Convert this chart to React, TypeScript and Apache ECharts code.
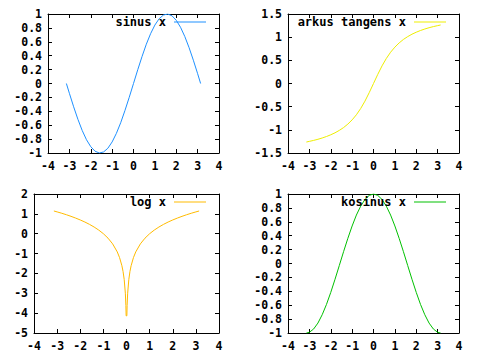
import React, { useEffect, useRef } from "react";
import * as echarts from "echarts";

const xs = [-3.14, -3.0, -2.8, -2.6, -2.4, -2.2, -2.0, -1.8, -1.6, -1.4, -1.2, -1.0, -0.8, -0.6, -0.4, -0.2, 0,
  0.2, 0.4, 0.6, 0.8, 1.0, 1.2, 1.4, 1.6, 1.8, 2.0, 2.2, 2.4, 2.6, 2.8, 3.0, 3.14];
const sinY = [0.0, -0.141, -0.335, -0.516, -0.676, -0.809, -0.909, -0.974, -1.0, -0.985, -0.932, -0.841, -0.717, -0.565, -0.389, -0.199, 0,
  0.199, 0.389, 0.565, 0.717, 0.841, 0.932, 0.985, 1.0, 0.974, 0.909, 0.809, 0.676, 0.516, 0.335, 0.141, 0.0];
const atanY = [-1.263, -1.249, -1.228, -1.204, -1.176, -1.144, -1.107, -1.064, -1.012, -0.951, -0.876, -0.785, -0.675, -0.540, -0.381, -0.197, 0,
  0.197, 0.381, 0.540, 0.675, 0.785, 0.876, 0.951, 1.012, 1.064, 1.107, 1.144, 1.176, 1.204, 1.228, 1.249, 1.263];
const cosY = [-1.0, -0.990, -0.942, -0.857, -0.737, -0.589, -0.416, -0.227, -0.029, 0.170, 0.362, 0.540, 0.697, 0.825, 0.921, 0.980, 1.0,
  0.980, 0.921, 0.825, 0.697, 0.540, 0.362, 0.170, -0.029, -0.227, -0.416, -0.589, -0.737, -0.857, -0.942, -0.990, -1.0];
const logX = [-3.14, -3.0, -2.8, -2.6, -2.4, -2.2, -2.0, -1.8, -1.6, -1.4, -1.2, -1.0, -0.8, -0.6, -0.4, -0.3, -0.2, -0.15, -0.1, -0.05, -0.027, -0.016,
  0.016, 0.027, 0.05, 0.1, 0.15, 0.2, 0.3, 0.4, 0.6, 0.8, 1.0, 1.2, 1.4, 1.6, 1.8, 2.0, 2.2, 2.4, 2.6, 2.8, 3.0, 3.14];
const logY = [1.144, 1.099, 1.030, 0.956, 0.875, 0.788, 0.693, 0.588, 0.470, 0.336, 0.182, 0, -0.223, -0.511, -0.916, -1.204, -1.609, -1.897, -2.303, -2.996, -3.612, -4.135,
  -4.135, -3.612, -2.996, -2.303, -1.897, -1.609, -1.204, -0.916, -0.511, -0.223, 0, 0.182, 0.336, 0.470, 0.588, 0.693, 0.788, 0.875, 0.956, 1.030, 1.099, 1.144];

const names = ["sinus x", "arkus tangens x", "log x", "kosinus x"];
const colors = ["#1e90ff", "#eeee00", "#ffbb00", "#00c000"];
const yRanges = [
  { min: -1, max: 1, interval: 0.2 },
  { min: -1.5, max: 1.5, interval: 0.5 },
  { min: -5, max: 2, interval: 1 },
  { min: -1, max: 1, interval: 0.2 },
];
const xTicks = { min: -4, max: 4, interval: 1 };

const FONT = "DejaVu Sans Mono";

export default function App() {
  const ref = useRef<HTMLDivElement>(null);
  useEffect(() => {
    const chart = echarts.init(ref.current!, null, { renderer: "svg" });
    const grids = [
      { left: 48, top: 14, width: 171, height: 139 },
      { left: 288, top: 14, width: 171, height: 139 },
      { left: 34, top: 194, width: 185, height: 139 },
      { left: 288, top: 194, width: 171, height: 139 },
    ];
    const axisLine = { show: true, onZero: false, lineStyle: { color: "#000", width: 1 } };
    const tick = { show: true, inside: true, length: 4, lineStyle: { color: "#000" } };
    const label = { fontFamily: FONT, fontWeight: "bold" as const, fontSize: 11.5, color: "#000" };
    const xAxis: any[] = [];
    const yAxis: any[] = [];
    grids.forEach((_, i) => {
      ["bottom", "top"].forEach((pos, k) => {
        xAxis.push({
          type: "value", gridIndex: i, position: pos, ...xTicks,
          axisLine, axisTick: tick, splitLine: { show: false },
          axisLabel: { show: k === 0, margin: 7, ...label },
        });
      });
      ["left", "right"].forEach((pos, k) => {
        yAxis.push({
          type: "value", gridIndex: i, position: pos, ...yRanges[i],
          axisLine, axisTick: tick, splitLine: { show: false },
          axisLabel: { show: k === 0, margin: 6, ...label },
        });
      });
    });
    const ys = [sinY, atanY, logY, cosY];
    const xsets = [xs, xs, logX, xs];
    const series = ys.map((yy, i) => ({
      type: "line", name: names[i], xAxisIndex: 2 * i, yAxisIndex: 2 * i,
      data: xsets[i].map((x, j) => [x, yy[j]]),
      showSymbol: false, symbol: "none",
      lineStyle: { color: colors[i], width: 1 }, itemStyle: { color: colors[i] },
      clip: true,
    }));
    const legendPos = [
      { right: 274, top: 15 },
      { right: 34, top: 15 },
      { right: 274, top: 195 },
      { right: 34, top: 195 },
    ];
    const legend = names.map((n, i) => ({
      data: [n], ...legendPos[i], padding: 0, align: "right", orient: "horizontal",
      selectedMode: false, icon: "rect", itemWidth: 32, itemHeight: 1,
      textStyle: { ...label, fontSize: 12, lineHeight: 14, padding: [0, 3, 0, 0] },
    }));
    chart.setOption({
      animation: false,
      backgroundColor: "#fff",
      grid: grids,
      xAxis, yAxis, series, legend,
    });
    return () => chart.dispose();
  }, []);
  return <div ref={ref} style={{ width: 480, height: 360, position: "absolute", left: 0, top: 0 }} />;
}
